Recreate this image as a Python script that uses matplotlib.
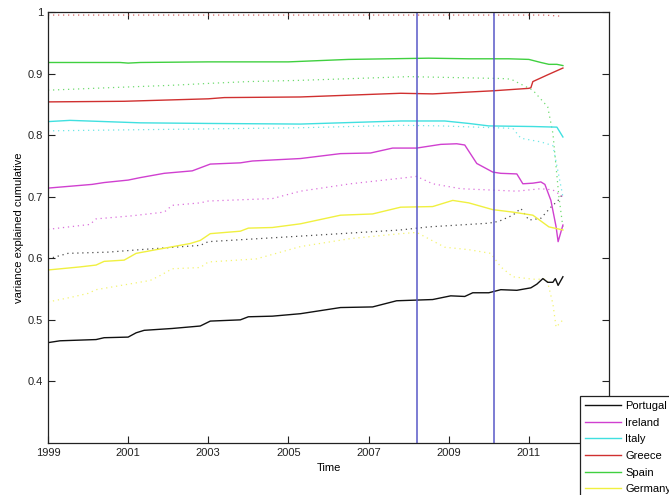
import numpy as np
from matplotlib import pyplot as plt

plt.rcParams['font.family'] = ['Liberation Sans', 'DejaVu Sans']

# values (year, cumulative variance explained)
countries = ["Portugal", "Ireland", "Italy", "Greece", "Spain", "Germany"]

portugal_t = [1999.0, 1999.3, 2000.2, 2000.4, 2001.0, 2001.2, 2001.4, 2002.1, 2002.8, 2003.05, 2003.8, 2004.0,
              2004.6, 2005.3, 2006.3, 2007.1, 2007.7, 2008.6, 2009.05, 2009.4, 2009.6, 2010.0, 2010.3, 2010.7,
              2011.05, 2011.2, 2011.35, 2011.47, 2011.6, 2011.66, 2011.73, 2011.85]
portugal_v = [0.463, 0.466, 0.468, 0.471, 0.472, 0.479, 0.483, 0.486, 0.490, 0.498, 0.500, 0.505,
              0.506, 0.510, 0.520, 0.521, 0.531, 0.533, 0.539, 0.538, 0.544, 0.544, 0.549, 0.548,
              0.552, 0.558, 0.567, 0.561, 0.561, 0.567, 0.556, 0.570]
portugal_dot_t = [1999.0, 1999.5, 2000.5, 2001.3, 2002.8, 2003.0, 2005.3, 2007.8, 2008.5, 2010.0, 2010.25,
                  2010.6, 2010.8, 2011.0, 2011.3, 2011.55, 2011.73, 2011.85]
portugal_dot_v = [0.599, 0.608, 0.610, 0.614, 0.621, 0.627, 0.636, 0.646, 0.651, 0.657, 0.660,
                  0.670, 0.681, 0.662, 0.665, 0.683, 0.694, 0.705]

ireland_t = [1999.0, 2000.1, 2000.4, 2001.0, 2001.3, 2001.9, 2002.6, 2003.05, 2003.8, 2004.1, 2005.3, 2006.3,
             2007.05, 2007.6, 2008.2, 2008.8, 2009.2, 2009.4, 2009.7, 2010.1, 2010.3, 2010.7, 2010.85, 2011.1,
             2011.3, 2011.4, 2011.55, 2011.68, 2011.73, 2011.85]
ireland_v = [0.714, 0.720, 0.723, 0.727, 0.731, 0.738, 0.742, 0.753, 0.755, 0.758, 0.762, 0.770,
             0.771, 0.779, 0.779, 0.785, 0.786, 0.784, 0.754, 0.740, 0.738, 0.737, 0.721, 0.722,
             0.724, 0.720, 0.694, 0.651, 0.627, 0.654]
ireland_dot_t = [1999.0, 2000.05, 2000.2, 2001.1, 2001.9, 2002.1, 2002.8, 2003.0, 2004.6, 2005.3, 2006.55,
                 2007.8, 2008.2, 2008.6, 2009.3, 2010.0, 2010.7, 2011.3, 2011.6, 2011.85]
ireland_dot_v = [0.647, 0.655, 0.664, 0.669, 0.675, 0.686, 0.690, 0.693, 0.697, 0.709, 0.721,
                 0.730, 0.733, 0.721, 0.713, 0.711, 0.709, 0.713, 0.711, 0.700]

italy_t = [1999.0, 1999.55, 2001.3, 2003.0, 2005.3, 2007.8, 2008.9, 2009.5, 2010.0, 2011.1, 2011.7, 2011.85]
italy_v = [0.822, 0.824, 0.820, 0.819, 0.818, 0.823, 0.823, 0.819, 0.815, 0.814, 0.813, 0.797]
italy_dot_t = [1999.0, 2005.3, 2007.8, 2008.8, 2010.6, 2010.8, 2011.3, 2011.6, 2011.7, 2011.85]
italy_dot_v = [0.807, 0.812, 0.816, 0.815, 0.811, 0.795, 0.789, 0.783, 0.750, 0.700]

greece_t = [1999.0, 2000.9, 2003.0, 2003.4, 2005.3, 2007.8, 2008.6, 2010.1, 2011.0, 2011.05, 2011.1, 2011.47, 2011.85]
greece_v = [0.854, 0.855, 0.859, 0.861, 0.862, 0.868, 0.867, 0.872, 0.876, 0.877, 0.887, 0.898, 0.909]
greece_dot_t = [1999.0, 2011.4, 2011.85]
greece_dot_v = [0.995, 0.995, 0.993]

spain_t = [1999.0, 2000.8, 2001.0, 2001.3, 2003.0, 2005.0, 2006.5, 2007.5, 2008.5, 2009.5, 2010.5, 2011.0,
           2011.3, 2011.5, 2011.7, 2011.85]
spain_v = [0.918, 0.918, 0.917, 0.918, 0.919, 0.919, 0.923, 0.924, 0.925, 0.924, 0.924, 0.923,
           0.918, 0.915, 0.915, 0.913]
spain_dot_t = [1999.0, 2000.5, 2002.1, 2003.0, 2004.0, 2005.3, 2008.0, 2010.3, 2010.55, 2011.1, 2011.47,
               2011.6, 2011.75, 2011.85]
spain_dot_v = [0.873, 0.877, 0.881, 0.884, 0.887, 0.889, 0.895, 0.892, 0.891, 0.873, 0.846,
               0.803, 0.700, 0.650]

germany_t = [1999.0, 1999.8, 2000.2, 2000.4, 2000.9, 2001.2, 2001.7, 2002.55, 2002.8, 2003.05, 2003.8, 2004.0,
             2004.6, 2005.3, 2006.3, 2007.1, 2007.8, 2008.6, 2009.1, 2009.5, 2010.1, 2010.6, 2011.1, 2011.5, 2011.85]
germany_v = [0.581, 0.586, 0.589, 0.595, 0.597, 0.608, 0.614, 0.624, 0.629, 0.640, 0.644, 0.649,
             0.650, 0.656, 0.670, 0.672, 0.683, 0.684, 0.694, 0.690, 0.679, 0.675, 0.670, 0.651, 0.646]
germany_dot_t = [1999.0, 1999.6, 2000.0, 2000.2, 2001.55, 2001.8, 2002.1, 2002.8, 2003.0, 2004.2, 2005.3,
                 2006.55, 2007.8, 2008.2, 2008.9, 2009.5, 2010.05, 2010.3, 2010.6, 2011.1, 2011.45, 2011.6,
                 2011.68, 2011.85]
germany_dot_v = [0.529, 0.537, 0.543, 0.549, 0.564, 0.572, 0.583, 0.585, 0.594, 0.599, 0.619,
                 0.632, 0.640, 0.642, 0.618, 0.614, 0.608, 0.586, 0.570, 0.566, 0.566, 0.526,
                 0.488, 0.500]

# crisis markers
events = [2008.22, 2010.12]

colors = {"Portugal": "#111111", "Ireland": "#d040d0", "Italy": "#40e0e0",
          "Greece": "#d03030", "Spain": "#40d040", "Germany": "#f0f040"}

solid = {"Portugal": (portugal_t, portugal_v), "Ireland": (ireland_t, ireland_v),
         "Italy": (italy_t, italy_v), "Greece": (greece_t, greece_v),
         "Spain": (spain_t, spain_v), "Germany": (germany_t, germany_v)}
dotted = {"Portugal": (portugal_dot_t, portugal_dot_v), "Ireland": (ireland_dot_t, ireland_dot_v),
          "Italy": (italy_dot_t, italy_dot_v), "Greece": (greece_dot_t, greece_dot_v),
          "Spain": (spain_dot_t, spain_dot_v), "Germany": (germany_dot_t, germany_dot_v)}

fig = plt.figure(figsize=(6.69, 4.95), dpi=100)
ax = fig.add_axes([48 / 669, 52 / 495, 561 / 669, 431 / 495])

for c in countries:
    t, v = dotted[c]
    ax.plot(t, v, color=colors[c], lw=0.9, linestyle=(0, (1, 3)), alpha=0.75)
for c in countries:
    t, v = solid[c]
    ax.plot(t, v, color=colors[c], lw=1.0, label=c)

for e in events:
    ax.axvline(e, color="#5858c8", lw=1.1)

ax.set_xlim(1999, 2013)
ax.set_ylim(0.3, 1.0)
ax.set_xticks(np.arange(1999, 2012, 2))
ax.set_yticks([0.4, 0.5, 0.6, 0.7, 0.8, 0.9, 1.0])
ax.set_yticklabels(["0.4", "0.5", "0.6", "0.7", "0.8", "0.9", "1"])
ax.tick_params(direction="in", top=True, right=True, length=5, labelsize=8, colors="#222222")
for s in ax.spines.values():
    s.set_color("#222222")
    s.set_linewidth(0.9)

ax.set_xlabel("Time", fontsize=8, labelpad=4)
ax.set_ylabel("variance explained cumulative", fontsize=8, labelpad=3)

# legend runs off the bottom of the figure, as in the original
leg = fig.legend(loc="upper left", bbox_to_anchor=(580 / 669, 1 - 396 / 495), borderaxespad=0,
                 fontsize=8, frameon=True, fancybox=False, handlelength=3.2, handletextpad=0.4,
                 labelspacing=0.6, borderpad=0.45)
leg.get_frame().set_edgecolor("#222222")
leg.get_frame().set_linewidth(0.9)
leg.get_frame().set_alpha(1)

plt.savefig("out.png", dpi=100)
